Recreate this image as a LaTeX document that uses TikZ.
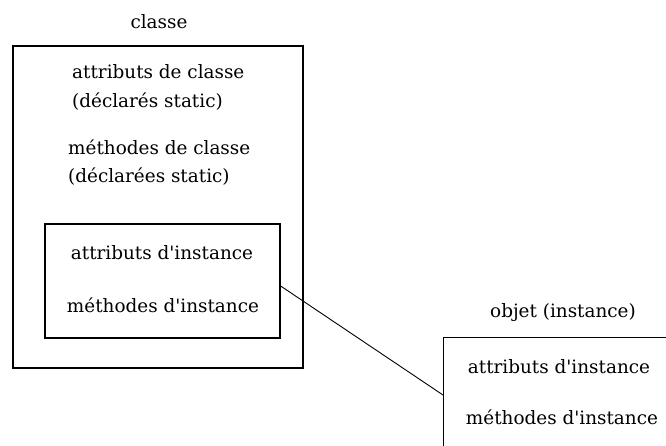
\documentclass[tikz,border=0pt]{standalone}
\usepackage{fontspec}
\setmainfont{DejaVu Serif}[Ligatures=TeXOff]
\begin{document}
\begin{tikzpicture}[x=1pt,y=-1pt,
  txt/.style={inner sep=0pt,font=\fontsize{18.4}{21}\selectfont},
  boxed/.style={draw,line width=1.3pt,inner sep=0pt},
  link/.style={line width=0.9pt}]
\clip (0,0) rectangle (666,446);
\fill[white] (0,0) rectangle (666,446);
% boxes
\node[boxed,minimum width=290pt,minimum height=322pt] (classe) at (158,207) {};
\node[boxed,minimum width=235pt,minimum height=114pt] (inst) at (162.5,281) {};
\node[boxed,minimum width=260pt,minimum height=150pt,anchor=north west] (obj) at (443,337) {};
% texts
\node[txt] (tclasse) at (159,22) {classe};
\node[txt,anchor=west] (ac1) at (72,72) {attributs de classe};
\node[txt,anchor=west] (ac2) at (72,102) {(déclarés static)};
\node[txt,anchor=west] (mc1) at (68,147) {méthodes de classe};
\node[txt,anchor=west] (mc2) at (68,177) {(déclarées static)};
\node[txt] (ai) at (162,253) {attributs d'instance};
\node[txt] (mi) at (163,305) {méthodes d'instance};
\node[txt] (tobj) at (563,313) {objet (instance)};
\node[txt] (oa) at (559,367) {attributs d'instance};
\node[txt] (om) at (562,417) {méthodes d'instance};
% connector
\draw[link] ([yshift=-5pt]inst.east) -- ([yshift=-58pt]obj.north west);
\end{tikzpicture}
\end{document}
